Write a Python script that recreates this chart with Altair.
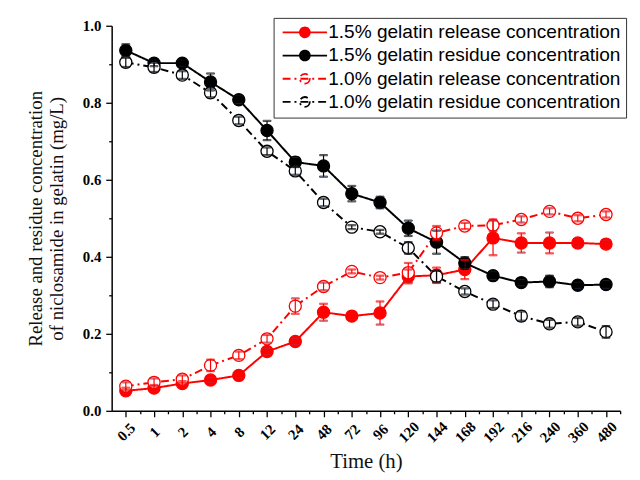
import altair as alt
import pandas as pd
import json

times = ["0.5", "1", "2", "4", "8", "12", "24", "48", "72", "96",
         "120", "144", "168", "192", "216", "240", "360", "480"]

series_names = [
    "1.5% gelatin release concentration",
    "1.5% gelatin residue concentration",
    "1.0% gelatin release concentration",
    "1.0% gelatin residue concentration",
]

rel15 = [0.052, 0.059, 0.071, 0.080, 0.092, 0.154, 0.180, 0.256, 0.246, 0.254,
         0.349, 0.352, 0.367, 0.449, 0.436, 0.436, 0.436, 0.433]
rel15_err = [0.008, 0.008, 0.006, 0.006, 0.006, 0.008, 0.008, 0.022, 0.008, 0.030,
             0.018, 0.020, 0.025, 0.045, 0.025, 0.027, 0.010, 0.010]

res15 = [0.936, 0.903, 0.903, 0.854, 0.808, 0.728, 0.646, 0.636, 0.564, 0.541,
         0.474, 0.438, 0.384, 0.351, 0.333, 0.336, 0.326, 0.328]
res15_err = [0.016, 0.008, 0.008, 0.022, 0.010, 0.025, 0.012, 0.028, 0.020, 0.015,
             0.020, 0.030, 0.015, 0.010, 0.008, 0.015, 0.008, 0.010]

rel10 = [0.064, 0.074, 0.082, 0.118, 0.144, 0.187, 0.272, 0.323, 0.362, 0.346,
         0.359, 0.462, 0.480, 0.482, 0.497, 0.518, 0.500, 0.510]
rel10_err = [0.010, 0.010, 0.010, 0.015, 0.010, 0.010, 0.020, 0.010, 0.005, 0.005,
             0.025, 0.018, 0.008, 0.015, 0.008, 0.008, 0.008, 0.008]

res10 = [0.905, 0.892, 0.872, 0.826, 0.754, 0.674, 0.623, 0.541, 0.477, 0.465,
         0.423, 0.349, 0.310, 0.277, 0.246, 0.226, 0.231, 0.205]
res10_err = [0.012, 0.012, 0.010, 0.012, 0.010, 0.010, 0.010, 0.010, 0.005, 0.005,
             0.015, 0.015, 0.008, 0.010, 0.012, 0.010, 0.010, 0.015]

stroke_colors = ["#ff0000", "#000000", "#ff0000", "#000000"]
fill_colors = ["#ff0000", "#000000", "#ffffff", "#ffffff"]
dashes = [[1, 0], [1, 0], [8, 4, 2, 4], [8, 4, 2, 4]]

rows = []
for name, vals, errs in zip(series_names, [rel15, res15, rel10, res10],
                            [rel15_err, res15_err, rel10_err, res10_err]):
    for i, (v, e) in enumerate(zip(vals, errs)):
        rows.append({"idx": i, "time": times[i], "series": name,
                     "value": v, "lo": v - e, "hi": v + e})
df = pd.DataFrame(rows)

label_array = json.dumps(times)

x_axis = alt.Axis(
    values=[i * 0.5 for i in range(36)],
    labelExpr=f"datum.value % 1 == 0 ? {label_array}[datum.value] : ''",
    tickSize={"condition": {"test": "datum.value % 1 != 0", "value": 3}, "value": 6},
    labelAngle=-45, labelAlign="center", labelBaseline="middle",
    labelPadding=15, labelFont="Liberation Serif", labelFontSize=15,
    labelFontWeight="bold", title="Time (h)", titleFont="Liberation Serif",
    titleFontSize=21, titleFontWeight="normal", titlePadding=6,
    grid=False, labelOverlap=False,
)
y_axis = alt.Axis(
    values=[round(i * 0.1, 1) for i in range(11)],
    labelExpr="round(datum.value*10) % 2 == 0 ? format(datum.value, '.1f') : ''",
    tickSize={"condition": {"test": "round(datum.value*10) % 2 == 1", "value": 3}, "value": 6},
    labelFont="Liberation Serif", labelFontSize=15, labelFontWeight="bold",
    labelPadding=5,
    title=["Release and residue concentration", "of niclosamide in gelatin (mg/L)"],
    titleFont="Liberation Serif", titleFontSize=19, titleFontWeight="normal",
    titlePadding=16, grid=False, labelOverlap=False,
)

x_scale = alt.Scale(domain=[-0.5, 17.5], nice=False, zero=False)
y_scale = alt.Scale(domain=[0, 1], nice=False, zero=False)


def X():
    return alt.X("idx:Q", scale=x_scale, axis=x_axis)


def Y(field):
    return alt.Y(f"{field}:Q", scale=y_scale, axis=y_axis)


stroke_enc = alt.Stroke("series:N", scale=alt.Scale(domain=series_names, range=stroke_colors),
                        legend=alt.Legend(title=None))
fill_enc = alt.Fill("series:N", scale=alt.Scale(domain=series_names, range=fill_colors),
                    legend=alt.Legend(title=None))
dash_enc = alt.StrokeDash("series:N", scale=alt.Scale(domain=series_names, range=dashes),
                          legend=alt.Legend(title=None))

base = alt.Chart(df)

lines = base.mark_line(strokeWidth=2).encode(x=X(), y=Y("value"), stroke=stroke_enc, strokeDash=dash_enc)
points = base.mark_point(filled=False, size=150, strokeWidth=1.3, opacity=1).encode(
    x=X(), y=Y("value"), stroke=stroke_enc, fill=fill_enc)
err_rule = base.mark_rule(strokeWidth=1.2).encode(
    x=X(), y=Y("lo"), y2="hi:Q", stroke=stroke_enc)
cap_lo = base.mark_tick(orient="horizontal", size=8, thickness=1.2).encode(
    x=X(), y=Y("lo"), stroke=stroke_enc)
cap_hi = base.mark_tick(orient="horizontal", size=8, thickness=1.2).encode(
    x=X(), y=Y("hi"), stroke=stroke_enc)

symbol_path = "M-4.5,0H4.5M1,0A1,1,0,1,1,-1,0A1,1,0,1,1,1,0"

chart = alt.layer(lines, points, err_rule, cap_lo, cap_hi).properties(
    width=515, height=390,
    autosize=alt.AutoSizeParams(type="none"),
    padding={"left": 105, "top": 15, "right": 12, "bottom": 62},
).configure_view(stroke=None).configure_axis(
    domainColor="black", tickColor="black", domainWidth=1.5, tickWidth=1.3,
    labelColor="black", titleColor="#111111",
).configure_legend(
    orient="none", legendX=164, legendY=-8,
    symbolType=symbol_path, symbolSize=100, symbolStrokeWidth=1.8,
    symbolOffset=17, labelOffset=14,
    labelFont="Liberation Sans", labelFontSize=19.3, labelColor="black",
    rowPadding=3.5, padding=5, strokeColor="#333333", fillColor="white",
    cornerRadius=0, labelLimit=400,
)

chart.save("out.html", embed_options={"renderer": "svg", "actions": False})
